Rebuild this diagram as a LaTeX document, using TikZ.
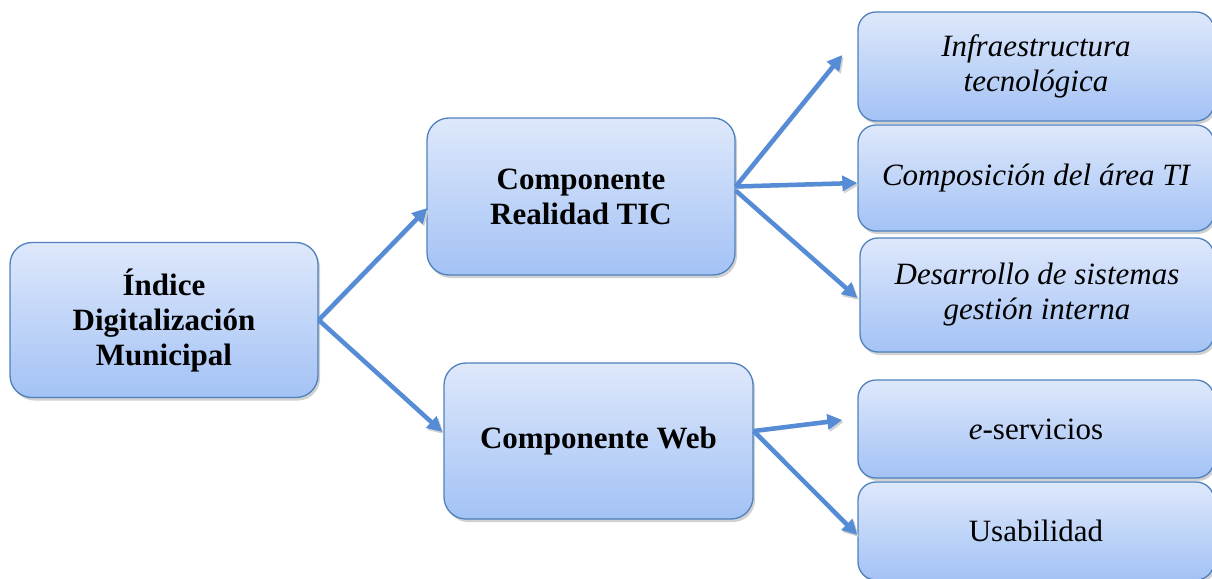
\documentclass[tikz,border=0pt]{standalone}
\usepackage{fontspec}
\setmainfont{Liberation Serif}
\usetikzlibrary{arrows.meta,shadows,calc}
\definecolor{boxtop}{RGB}{222,232,251}
\definecolor{boxbot}{RGB}{163,194,245}
\definecolor{boxline}{RGB}{79,129,189}
\definecolor{arrowblue}{RGB}{86,140,214}
\tikzset{
  card/.style={draw=boxline, line width=1.3pt, rounded corners=#1,
    top color=boxtop, bottom color=boxbot, align=center,
    font=\fontsize{31}{35}\selectfont,
    drop shadow={shadow xshift=2pt, shadow yshift=-3pt, fill=black!30, opacity=0.6},
    inner sep=0pt},
  card/.default=22pt,
  conn/.style={arrowblue, line width=4.5pt,
    -{Triangle[length=15pt,width=15pt]},
    preaction={draw=black!18, transform canvas={xshift=1.5pt,yshift=-2pt}}},
}
\begin{document}
\begin{tikzpicture}[x=1pt,y=-1pt]
\useasboundingbox (0,0) rectangle (1212,578);

% first level
\node[card, minimum width=308pt, minimum height=155pt] (root) at (164,320)
  {\bfseries Índice\\\bfseries Digitalización\\\bfseries Municipal};

% components
\node[card, minimum width=308pt, minimum height=157pt] (real) at (581,196.5)
  {\bfseries Componente\\\bfseries Realidad TIC};
\node[card, minimum width=309pt, minimum height=156pt] (web) at (598.5,441)
  {\raisebox{-3pt}{\bfseries Componente Web}};

% indicators
\node[card=18pt, minimum width=356pt, minimum height=109pt] (infra) at (1036,66.5)
  {\itshape Infraestructura\\\itshape tecnológica};
\node[card=18pt, minimum width=356pt, minimum height=106pt] (comp) at (1036,178)
  {\raisebox{-3pt}{\itshape Composición del área TI}};
\node[card=18pt, minimum width=354pt, minimum height=114pt] (des) at (1037,295)
  {\itshape Desarrollo de sistemas\\\itshape gestión interna};
\node[card=18pt, minimum width=356pt, minimum height=98pt] (eserv) at (1036,429)
  {\raisebox{-2pt}{\textit{e}-servicios}};
\node[card=18pt, minimum width=356pt, minimum height=98pt] (usab) at (1036,531)
  {\raisebox{-2pt}{Usabilidad}};

% connectors
\draw[conn] (root.east) -- ($(real.west)+(1,11.5)$);
\draw[conn] (root.east) -- ($(web.west)+(-1,-9)$);
\draw[conn] ($(real.east)+(0,-10)$) -- ($(infra.west)+(-15,-11.5)$);
\draw[conn] ($(real.east)+(0,-10)$) -- ($(comp.west)+(0,5)$);
\draw[conn] ($(real.east)+(0,-6)$) -- ($(des.west)+(-2,3)$);
\draw[conn] ($(web.east)+(0,-10)$) -- ($(eserv.west)+(-15,-9)$);
\draw[conn] ($(web.east)+(0,-10)$) -- ($(usab.west)+(0,4)$);
\end{tikzpicture}
\end{document}
